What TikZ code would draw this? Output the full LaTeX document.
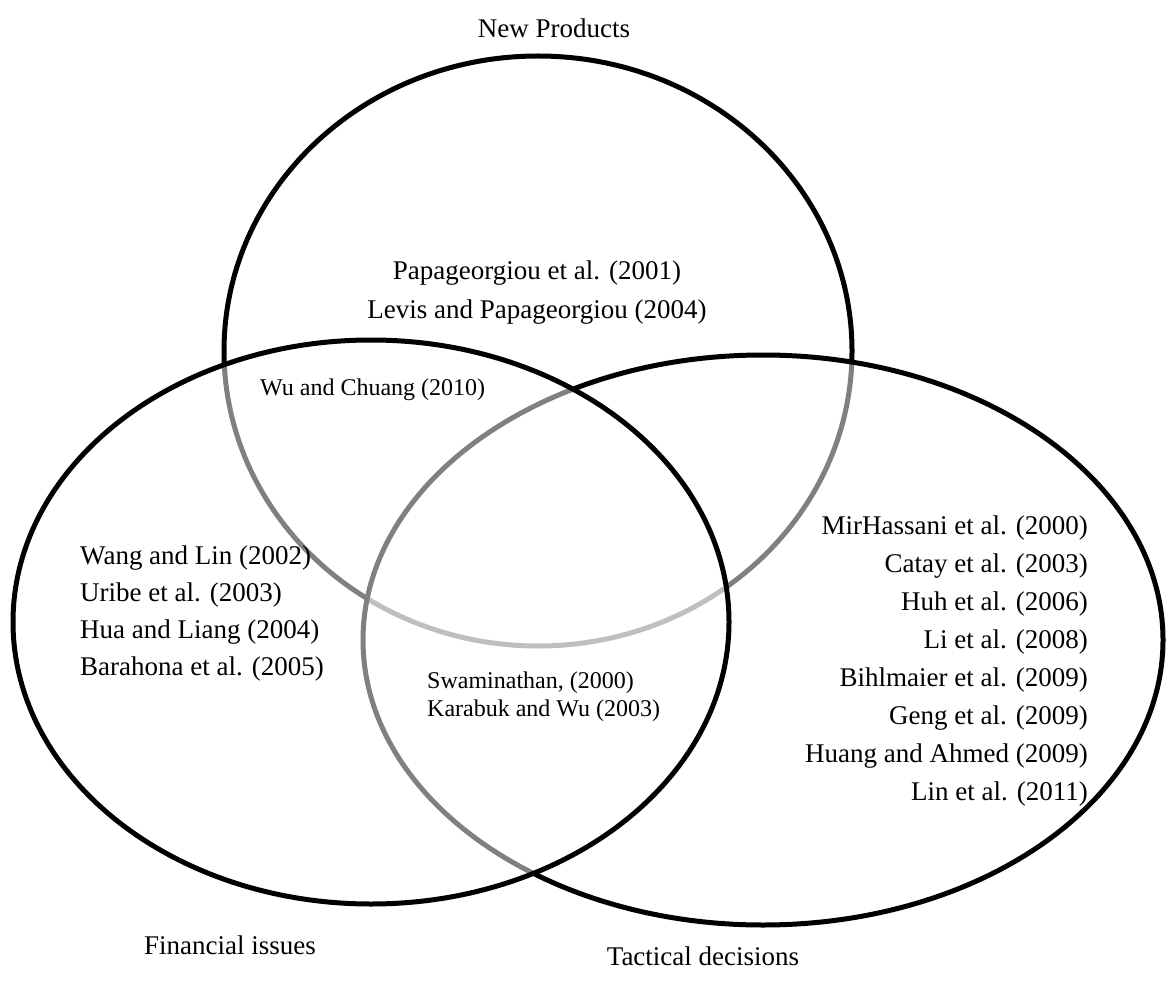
\documentclass[tikz,border=0pt]{standalone}
\usepackage{fontspec}
\setmainfont{Liberation Serif}

\begin{document}
\begin{tikzpicture}[x=1pt, y=-1pt,
    set/.style={draw=black, line width=5pt, fill=white, fill opacity=0.5},
    big/.style={font=\fontsize{27}{32}\selectfont, inner sep=0pt},
    small/.style={font=\fontsize{24}{28}\selectfont, inner sep=0pt},
    ]
  \useasboundingbox (0,0) rectangle (1166,981);
  % the three sets, later ones wash out the lines below them
  \draw[set] (538,351) ellipse [x radius=314pt, y radius=295pt];
  \draw[set] (763,640) ellipse [x radius=400pt, y radius=285pt];
  \draw[set] (371,622) ellipse [x radius=358pt, y radius=282pt];
  % set names
  \node[big] (newprod) at (554,28) {New Products};
  \node[big] (financial) at (230,945) {Financial issues};
  \node[big] (tactical) at (703,956) {Tactical decisions};
  % new products only
  \node[big] (papa) at (537,273) {Papageorgiou et al. (2001)};
  \node[big] (levis) at (537,312) {Levis and Papageorgiou (2004)};
  % overlaps
  \node[small, anchor=west] (wu) at (260,390) {Wu and Chuang (2010)};
  \node[small, anchor=west] (swami) at (427,683) {Swaminathan, (2000)};
  \node[small, anchor=west] (karabuk) at (427,711) {Karabuk and Wu (2003)};
  % financial issues only
  \foreach \paper [count=\i] in {{Wang and Lin (2002)}, {Uribe et al. (2003)},
      {Hua and Liang (2004)}, {Barahona et al. (2005)}}
    \node[big, anchor=west] (fin\i) at ({80}, {558+37*(\i-1)}) {\paper};
  % tactical decisions only
  \foreach \paper [count=\i] in {{MirHassani et al. (2000)}, {Catay et al. (2003)},
      {Huh et al. (2006)}, {Li et al. (2008)}, {Bihlmaier et al. (2009)},
      {Geng et al. (2009)}, {Huang and Ahmed (2009)}, {Lin et al. (2011)}}
    \node[big, anchor=east] (tac\i) at ({1088}, {528+38*(\i-1)}) {\paper};
\end{tikzpicture}
\end{document}
